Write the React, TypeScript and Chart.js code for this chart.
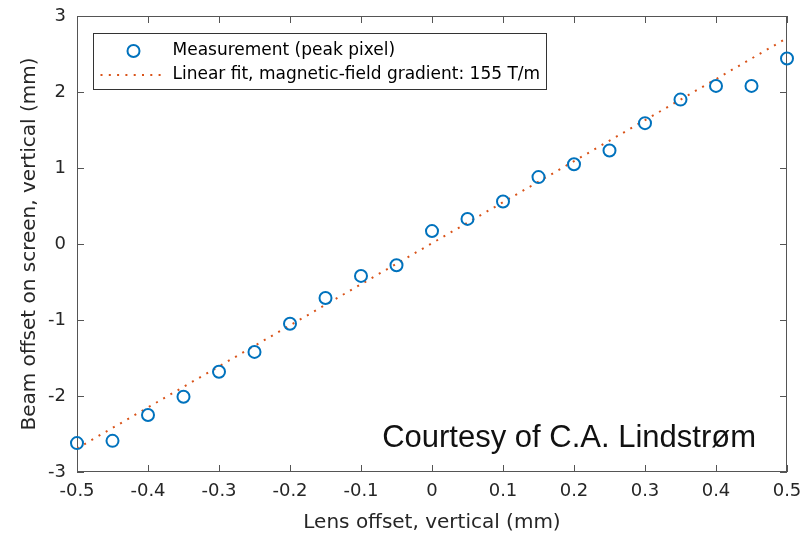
import React, { useEffect, useRef } from "react";
import { Chart, registerables } from "chart.js";

Chart.register(...registerables);

const lensOffset = [-0.5, -0.45, -0.4, -0.35, -0.3, -0.25, -0.2, -0.15, -0.1, -0.05, 0, 0.05, 0.1, 0.15, 0.2, 0.25, 0.3, 0.35, 0.4, 0.45, 0.5];
const beamOffset = [-2.62, -2.59, -2.25, -2.01, -1.68, -1.42, -1.05, -0.71, -0.42, -0.28, 0.17, 0.33, 0.56, 0.88, 1.05, 1.23, 1.59, 1.9, 2.08, 2.08, 2.44];
const fitX = [-0.5, 0.5];
const fitY = [-2.69, 2.71];
const xTicks = [-0.5, -0.4, -0.3, -0.2, -0.1, 0, 0.1, 0.2, 0.3, 0.4, 0.5];
const xTickLabels = ["-0.5", "-0.4", "-0.3", "-0.2", "-0.1", "0", "0.1", "0.2", "0.3", "0.4", "0.5"];
const yTicks = [-3, -2, -1, 0, 1, 2, 3];
const yTickLabels = ["-3", "-2", "-1", "0", "1", "2", "3"];
const seriesLabels = ["Measurement (peak pixel)", "Linear fit, magnetic-field gradient: 155 T/m"];
const xTitle = "Lens offset, vertical (mm)";
const yTitle = "Beam offset on screen, vertical (mm)";
const credit = "Courtesy of C.A. Lindstr\u00f8m";

const BLUE = "#0072BD";
const ORANGE = "#D95319";
const AXIS = "#262626";
const FONT = "'DejaVu Sans', sans-serif";

function labelFor(vals: number[], labels: string[], v: number) {
  const i = vals.findIndex((t) => Math.abs(t - v) < 1e-9);
  return i >= 0 ? labels[i] : "";
}

const framePlugin = {
  id: "matlabFrame",
  beforeDatasetsDraw(chart: any) {
    const { ctx, chartArea: a, scales } = chart;
    ctx.save();
    ctx.strokeStyle = "#555";
    ctx.lineWidth = 1;
    ctx.strokeRect(Math.round(a.left) + 0.5, Math.round(a.top) + 0.5, Math.round(a.right - a.left) - 1, Math.round(a.bottom - a.top) - 1);
    const L = 7;
    ctx.beginPath();
    for (const v of xTicks) {
      const x = Math.round(scales.x.getPixelForValue(v)) + 0.5;
      ctx.moveTo(x, a.top);
      ctx.lineTo(x, a.top + L);
      ctx.moveTo(x, a.bottom);
      ctx.lineTo(x, a.bottom - L);
    }
    for (const v of yTicks) {
      const y = Math.round(scales.y.getPixelForValue(v)) + 0.5;
      ctx.moveTo(a.left, y);
      ctx.lineTo(a.left + L, y);
      ctx.moveTo(a.right, y);
      ctx.lineTo(a.right - L, y);
    }
    ctx.stroke();
    ctx.restore();
  },
  afterDraw(chart: any) {
    const { ctx, chartArea: a } = chart;
    ctx.save();
    // legend box
    const bx = a.left + 16.5;
    const by = a.top + 17.5;
    const bw = 453;
    const bh = 56;
    ctx.fillStyle = "#fff";
    ctx.fillRect(bx, by, bw, bh);
    ctx.strokeStyle = "#333";
    ctx.lineWidth = 1;
    ctx.strokeRect(bx, by, bw, bh);
    const r1 = by + 17.5;
    const r2 = by + 41.5;
    ctx.strokeStyle = BLUE;
    ctx.lineWidth = 2;
    ctx.beginPath();
    ctx.arc(bx + 40, r1, 6, 0, Math.PI * 2);
    ctx.stroke();
    ctx.strokeStyle = ORANGE;
    ctx.setLineDash([2, 6.3]);
    ctx.beginPath();
    ctx.moveTo(bx + 7, r2);
    ctx.lineTo(bx + 72, r2);
    ctx.stroke();
    ctx.setLineDash([]);
    ctx.fillStyle = "#000";
    ctx.font = `17px ${FONT}`;
    ctx.textBaseline = "middle";
    ctx.textAlign = "left";
    ctx.fillText(seriesLabels[0], bx + 79, r1);
    ctx.fillText(seriesLabels[1], bx + 79, r2);
    // credit
    ctx.font = "31px 'Liberation Sans', Arial, sans-serif";
    ctx.fillStyle = "#111";
    ctx.textAlign = "right";
    ctx.fillText(credit, a.right - 31, a.bottom - 34);
    ctx.restore();
  },
};

export default function App() {
  const ref = useRef<HTMLCanvasElement | null>(null);
  useEffect(() => {
    document.body.style.margin = "0";
    const canvas = ref.current;
    if (!canvas) return;
    const chart = new Chart(canvas, {
      type: "scatter",
      data: {
        datasets: [
          {
            label: seriesLabels[0],
            data: lensOffset.map((x, i) => ({ x, y: beamOffset[i] })),
            showLine: false,
            pointStyle: "circle",
            pointRadius: 6,
            pointBorderWidth: 2,
            pointBackgroundColor: "rgba(0,0,0,0)",
            pointBorderColor: BLUE,
            borderColor: BLUE,
            clip: false as any,
            order: 1,
          },
          {
            label: seriesLabels[1],
            data: fitX.map((x, i) => ({ x, y: fitY[i] })),
            showLine: true,
            pointRadius: 0,
            borderColor: ORANGE,
            borderWidth: 2,
            borderDash: [2, 6.3],
            fill: false,
            order: 2,
          },
        ],
      },
      options: {
        responsive: false,
        animation: false,
        events: [],
        layout: { padding: { top: 16, right: 14, bottom: 0, left: 0 } },
        plugins: {
          legend: { display: false },
          tooltip: { enabled: false },
        },
        scales: {
          x: {
            type: "linear",
            min: -0.5,
            max: 0.5,
            afterBuildTicks: (s: any) => {
              s.ticks = xTicks.map((v) => ({ value: v }));
            },
            afterFit: (s: any) => {
              s.height = 65;
              s.paddingLeft = 0;
              s.paddingRight = 0;
              s.paddingTop = 0;
              s.paddingBottom = 0;
            },
            grid: { display: false, drawTicks: false },
            border: { display: false },
            ticks: {
              autoSkip: false,
              maxRotation: 0,
              padding: 9,
              color: AXIS,
              font: { family: FONT, size: 18 },
              callback: (v: any) => labelFor(xTicks, xTickLabels, Number(v)),
            },
            title: {
              display: true,
              text: xTitle,
              color: AXIS,
              font: { family: FONT, size: 20 },
              padding: { top: 0, bottom: 2 },
            },
          },
          y: {
            type: "linear",
            min: -3,
            max: 3,
            afterBuildTicks: (s: any) => {
              s.ticks = yTicks.map((v) => ({ value: v }));
            },
            afterFit: (s: any) => {
              s.width = 77;
              s.paddingLeft = 0;
              s.paddingRight = 0;
              s.paddingTop = 0;
              s.paddingBottom = 0;
            },
            grid: { display: false, drawTicks: false },
            border: { display: false },
            ticks: {
              autoSkip: false,
              padding: 11,
              color: AXIS,
              font: { family: FONT, size: 18 },
              callback: (v: any) => labelFor(yTicks, yTickLabels, Number(v)),
            },
            title: {
              display: true,
              text: yTitle,
              color: AXIS,
              font: { family: FONT, size: 20 },
              padding: { top: 18, bottom: 0 },
            },
          },
        },
      },
      plugins: [framePlugin],
    });
    return () => chart.destroy();
  }, []);
  return <canvas ref={ref} width={801} height={537} style={{ display: "block" }} />;
}
